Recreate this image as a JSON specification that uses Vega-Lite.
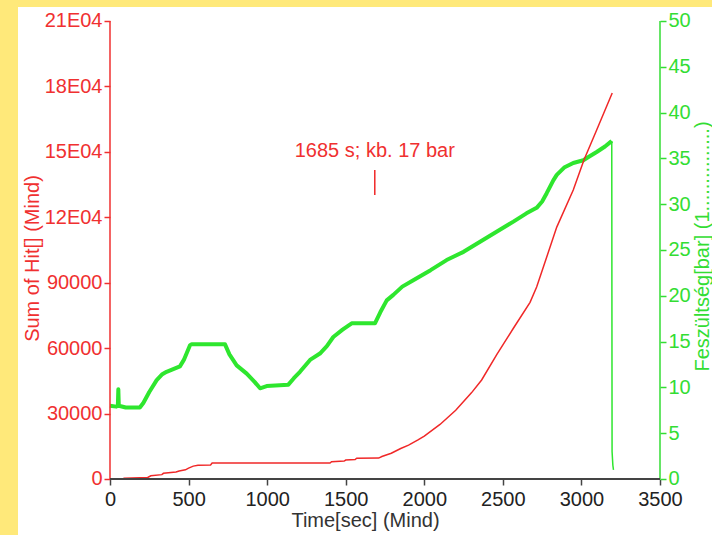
{
  "$schema": "https://vega.github.io/schema/vega-lite/v6.json",
  "width": 694,
  "height": 528,
  "autosize": {"type": "none"},
  "padding": {"left": 18, "top": 7, "right": 0, "bottom": 0},
  "background": "#FFE97A",
  "config": {
    "view": {"fill": "white", "stroke": null},
    "font": "Liberation Sans",
    "axis": {"grid": false, "labelFont": "Liberation Sans", "titleFont": "Liberation Sans", "labelFontSize": 20, "titleFontSize": 20, "titleFontWeight": "normal", "labelOverlap": false, "labelFlush": false, "domain": false, "tickSize": 6, "tickWidth": 1.5}
  },
  "datasets": {
    "red": [
      {"t": 0, "hits": 0}, {"t": 80, "hits": 0}, {"t": 90, "hits": 300}, {"t": 240, "hits": 700}, {"t": 260, "hits": 1500},
      {"t": 330, "hits": 2000}, {"t": 340, "hits": 2600}, {"t": 420, "hits": 3200}, {"t": 440, "hits": 3700}, {"t": 480, "hits": 4200},
      {"t": 500, "hits": 5000}, {"t": 530, "hits": 5900}, {"t": 560, "hits": 6300}, {"t": 640, "hits": 6400}, {"t": 650, "hits": 7300},
      {"t": 1400, "hits": 7300}, {"t": 1410, "hits": 7900}, {"t": 1490, "hits": 8200}, {"t": 1500, "hits": 8700}, {"t": 1560, "hits": 8900},
      {"t": 1570, "hits": 9500}, {"t": 1710, "hits": 9600}, {"t": 1730, "hits": 10300}, {"t": 1790, "hits": 11800}, {"t": 1850, "hits": 14000},
      {"t": 1900, "hits": 15500}, {"t": 1960, "hits": 17900}, {"t": 2000, "hits": 19700}, {"t": 2100, "hits": 25000}, {"t": 2200, "hits": 31500},
      {"t": 2300, "hits": 39500}, {"t": 2365, "hits": 45400}, {"t": 2461, "hits": 57000}, {"t": 2566, "hits": 69000}, {"t": 2673, "hits": 81000},
      {"t": 2715, "hits": 88000}, {"t": 2843, "hits": 115500}, {"t": 2948, "hits": 132500}, {"t": 3016, "hits": 146300}, {"t": 3097, "hits": 160000},
      {"t": 3196, "hits": 177000}
    ],
    "green": [
      {"t": 0, "bar": 8.0}, {"t": 40, "bar": 7.9}, {"t": 50, "bar": 8.0}, {"t": 53, "bar": 9.8}, {"t": 56, "bar": 8.0},
      {"t": 100, "bar": 7.8}, {"t": 190, "bar": 7.8}, {"t": 212, "bar": 8.3}, {"t": 250, "bar": 9.5}, {"t": 297, "bar": 10.8},
      {"t": 330, "bar": 11.4}, {"t": 360, "bar": 11.7}, {"t": 445, "bar": 12.3}, {"t": 470, "bar": 13.0}, {"t": 509, "bar": 14.6},
      {"t": 520, "bar": 14.7}, {"t": 732, "bar": 14.7}, {"t": 760, "bar": 13.6}, {"t": 806, "bar": 12.4}, {"t": 870, "bar": 11.5},
      {"t": 920, "bar": 10.6}, {"t": 955, "bar": 9.9}, {"t": 997, "bar": 10.15}, {"t": 1135, "bar": 10.3}, {"t": 1170, "bar": 11.0},
      {"t": 1209, "bar": 11.7}, {"t": 1273, "bar": 13.0}, {"t": 1336, "bar": 13.7}, {"t": 1380, "bar": 14.5}, {"t": 1421, "bar": 15.5},
      {"t": 1480, "bar": 16.3}, {"t": 1538, "bar": 17.0}, {"t": 1686, "bar": 17.0}, {"t": 1720, "bar": 18.2}, {"t": 1761, "bar": 19.5},
      {"t": 1803, "bar": 20.1}, {"t": 1860, "bar": 21.0}, {"t": 1930, "bar": 21.7}, {"t": 2040, "bar": 22.8}, {"t": 2142, "bar": 23.9},
      {"t": 2250, "bar": 24.8}, {"t": 2355, "bar": 25.9}, {"t": 2460, "bar": 27.0}, {"t": 2567, "bar": 28.1}, {"t": 2650, "bar": 29.0},
      {"t": 2715, "bar": 29.6}, {"t": 2750, "bar": 30.3}, {"t": 2779, "bar": 31.2}, {"t": 2821, "bar": 32.6}, {"t": 2843, "bar": 33.2},
      {"t": 2890, "bar": 34.0}, {"t": 2948, "bar": 34.5}, {"t": 3012, "bar": 34.8}, {"t": 3050, "bar": 35.2}, {"t": 3097, "bar": 35.7},
      {"t": 3150, "bar": 36.3}, {"t": 3186, "bar": 36.8}, {"t": 3193, "bar": 36.9}
    ],
    "greenDrop": [
      {"t": 3193, "bar": 36.9}, {"t": 3194, "bar": 20}, {"t": 3195, "bar": 3}, {"t": 3200, "bar": 1.5}, {"t": 3204, "bar": 1.0}
    ],
    "note": [{"t": 1685, "hits": 150400, "label": "1685 s; kb. 17 bar"}],
    "noteLine": [{"t": 1685, "hits": 141700, "hits2": 130200}]
  },
  "layer": [
    {
      "layer": [
        {
          "data": {"name": "green"},
          "mark": {"type": "line", "color": "#2EE62E", "strokeWidth": 4, "strokeJoin": "round"},
          "encoding": {
            "x": {"field": "t", "type": "quantitative", "scale": {"domain": [-585.45, 3830.9], "nice": false, "zero": false},
              "axis": {"orient": "bottom", "offset": -56, "values": [0, 500, 1000, 1500, 2000, 2500, 3000, 3500], "format": "d", "title": "Time[sec] (Mind)", "labelColor": "#222222", "titleColor": "#333333", "tickColor": "#444444", "labelPadding": 4, "titlePadding": 1}},
            "y": {"field": "bar", "type": "quantitative", "scale": {"domain": [-6.1135, 51.528], "nice": false, "zero": false},
              "axis": {"orient": "right", "offset": -52, "values": [0, 5, 10, 15, 20, 25, 30, 35, 40, 45, 50], "format": "d", "labelColor": "#33DD33", "tickColor": "#33DD33", "labelPadding": 2, "title": "Feszültség[bar] (1...............)", "titleColor": "#33DD33", "titleAngle": -90, "titleBaseline": "bottom", "titleAlign": "center", "titleX": 52, "titleY": 239}}
          }
        },
        {
          "data": {"name": "greenDrop"},
          "mark": {"type": "line", "color": "#2EE62E", "strokeWidth": 1.5},
          "encoding": {
            "x": {"field": "t", "type": "quantitative", "scale": {"domain": [-585.45, 3830.9], "nice": false, "zero": false}},
            "y": {"field": "bar", "type": "quantitative", "scale": {"domain": [-6.1135, 51.528], "nice": false, "zero": false}}
          }
        },
        {
          "data": {"values": [{}]},
          "mark": {"type": "rule", "color": "#33DD33", "strokeWidth": 1.5},
          "encoding": {
            "x": {"datum": 3500, "type": "quantitative", "scale": {"domain": [-585.45, 3830.9], "nice": false, "zero": false}},
            "y": {"datum": 0, "type": "quantitative", "scale": {"domain": [-6.1135, 51.528], "nice": false, "zero": false}},
            "y2": {"datum": 50}
          }
        }
      ]
    },
    {
      "layer": [
        {
          "data": {"name": "red"},
          "mark": {"type": "line", "color": "#F02828", "strokeWidth": 1.5},
          "encoding": {
            "x": {"field": "t", "type": "quantitative", "scale": {"domain": [-585.45, 3830.9], "nice": false, "zero": false}},
            "y": {"field": "hits", "type": "quantitative", "scale": {"domain": [-25677, 216419], "nice": false, "zero": false},
              "axis": {"orient": "left", "offset": -92, "values": [0, 30000, 60000, 90000, 120000, 150000, 180000, 210000], "labelExpr": "datum.value >= 120000 ? (datum.value / 10000) + 'E04' : '' + datum.value", "labelColor": "#F03030", "tickColor": "#F03030", "labelPadding": 2, "title": "Sum of Hit[] (Mind)", "titleColor": "#F03030", "titleAngle": -90, "titleBaseline": "bottom", "titleAlign": "center", "titleX": -68, "titleY": 251}}
          }
        },
        {
          "data": {"values": [{}]},
          "mark": {"type": "rule", "color": "#F03030", "strokeWidth": 1.5},
          "encoding": {
            "x": {"datum": 0, "type": "quantitative", "scale": {"domain": [-585.45, 3830.9], "nice": false, "zero": false}},
            "y": {"datum": 0, "type": "quantitative", "scale": {"domain": [-25677, 216419], "nice": false, "zero": false}},
            "y2": {"datum": 210000}
          }
        },
        {
          "data": {"values": [{}]},
          "mark": {"type": "rule", "color": "#444444", "strokeWidth": 2},
          "encoding": {
            "x": {"datum": 0, "type": "quantitative", "scale": {"domain": [-585.45, 3830.9], "nice": false, "zero": false}},
            "x2": {"datum": 3500},
            "y": {"datum": 0, "type": "quantitative", "scale": {"domain": [-25677, 216419], "nice": false, "zero": false}}
          }
        },
        {
          "data": {"name": "noteLine"},
          "mark": {"type": "rule", "color": "#F02828", "strokeWidth": 1.5},
          "encoding": {
            "x": {"field": "t", "type": "quantitative", "scale": {"domain": [-585.45, 3830.9], "nice": false, "zero": false}},
            "y": {"field": "hits", "type": "quantitative", "scale": {"domain": [-25677, 216419], "nice": false, "zero": false}},
            "y2": {"field": "hits2"}
          }
        },
        {
          "data": {"name": "note"},
          "mark": {"type": "text", "color": "#F03030", "fontSize": 20, "font": "Liberation Sans", "align": "center", "baseline": "middle"},
          "encoding": {
            "x": {"field": "t", "type": "quantitative", "scale": {"domain": [-585.45, 3830.9], "nice": false, "zero": false}},
            "y": {"field": "hits", "type": "quantitative", "scale": {"domain": [-25677, 216419], "nice": false, "zero": false}},
            "text": {"field": "label"}
          }
        }
      ]
    }
  ],
  "resolve": {"scale": {"y": "independent"}, "axis": {"y": "independent"}}
}
